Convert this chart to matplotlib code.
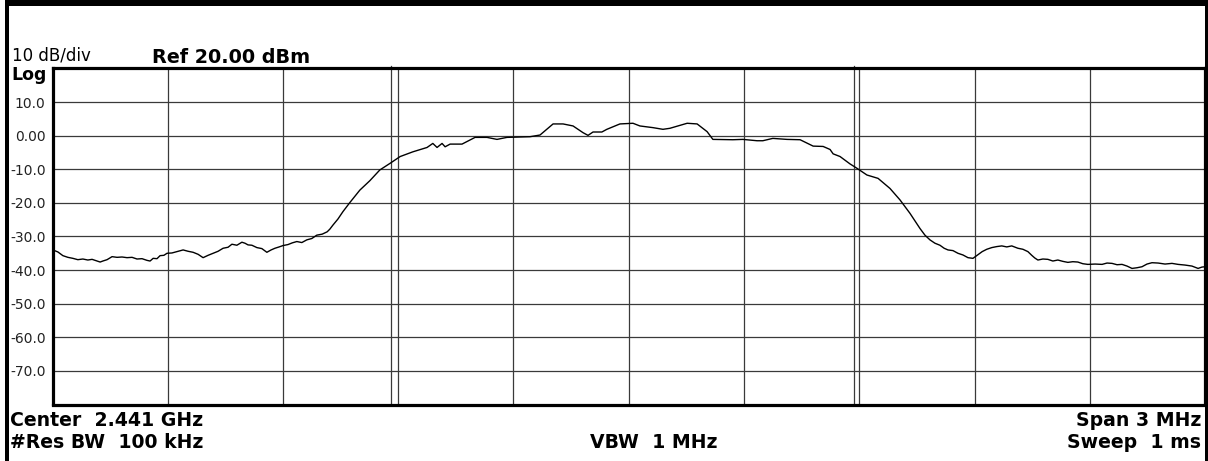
import matplotlib
matplotlib.use("Agg")
import matplotlib.pyplot as plt
from matplotlib.patches import Rectangle

# trace (frequency in MHz, level in dBm)
freq_mhz = [
    # lower skirt
    2439.501, 2439.514, 2439.527, 2439.540, 2439.553, 2439.566, 2439.579, 2439.592,
    2439.603, 2439.616, 2439.624, 2439.631, 2439.642, 2439.655, 2439.668, 2439.681,
    2439.694, 2439.707, 2439.720, 2439.733, 2439.746, 2439.754, 2439.762, 2439.772,
    2439.780, 2439.790, 2439.798, 2439.811, 2439.824, 2439.840, 2439.853, 2439.866,
    2439.879, 2439.892, 2439.905, 2439.918, 2439.931, 2439.944, 2439.957, 2439.967,
    2439.980, 2439.993, 2440.001, 2440.009, 2440.019, 2440.032, 2440.045, 2440.058,
    2440.069, 2440.079, 2440.090, 2440.100, 2440.113, 2440.124, 2440.136, 2440.149,
    2440.162, 2440.175, 2440.188, 2440.202, 2440.215, 2440.222, 2440.230, 2440.243,
    # rising edge and in-band
    2440.256, 2440.274, 2440.300, 2440.326, 2440.352, 2440.379, 2440.405, 2440.438,
    2440.475, 2440.490, 2440.501, 2440.514, 2440.522, 2440.535, 2440.566, 2440.600,
    2440.631, 2440.657, 2440.683, 2440.743, 2440.769, 2440.803, 2440.829, 2440.855,
    2440.881, 2440.894, 2440.907, 2440.930, 2440.943, 2440.977, 2441.011, 2441.029,
    2441.063, 2441.089, 2441.107, 2441.152, 2441.178, 2441.204, 2441.219, 2441.271,
    2441.297, 2441.334, 2441.349, 2441.375, 2441.412, 2441.446, 2441.480, 2441.506,
    # falling edge
    2441.524, 2441.532, 2441.550, 2441.576, 2441.594, 2441.620, 2441.649, 2441.680,
    2441.706, 2441.732, 2441.758,
    # upper skirt
    2441.771, 2441.784, 2441.797, 2441.810, 2441.821, 2441.831, 2441.844, 2441.857,
    2441.870, 2441.883, 2441.896, 2441.907, 2441.920, 2441.932, 2441.945, 2441.958,
    2441.971, 2441.984, 2441.997, 2442.013, 2442.026, 2442.039, 2442.049, 2442.057,
    2442.065, 2442.078, 2442.091, 2442.104, 2442.117, 2442.130, 2442.143, 2442.156,
    2442.169, 2442.182, 2442.195, 2442.214, 2442.232, 2442.245, 2442.258, 2442.271,
    2442.284, 2442.297, 2442.310, 2442.323, 2442.336, 2442.349, 2442.362, 2442.378,
    2442.396, 2442.414, 2442.430, 2442.448, 2442.466, 2442.482, 2442.492, 2442.500,
]
level_dbm = [
    -34.0, -34.6, -35.7, -36.2, -36.5, -36.9, -36.7, -37.0,
    -36.8, -37.3, -37.6, -37.3, -36.9, -36.0, -36.2, -36.1,
    -36.3, -36.2, -36.7, -36.6, -37.1, -37.3, -36.5, -36.6,
    -35.7, -35.6, -35.0, -34.9, -34.5, -34.0, -34.4, -34.7,
    -35.3, -36.3, -35.6, -35.0, -34.4, -33.5, -33.2, -32.3,
    -32.6, -31.7, -32.0, -32.5, -32.6, -33.3, -33.6, -34.7,
    -34.0, -33.5, -33.1, -32.7, -32.4, -31.9, -31.5, -31.8,
    -31.0, -30.6, -29.6, -29.3, -28.6, -27.8, -26.6, -24.8,
    -22.6, -19.9, -16.2, -13.4, -10.2, -8.2, -6.2, -4.8,
    -3.5, -2.3, -3.5, -2.3, -3.3, -2.5, -2.5, -0.5,
    -0.5, -1.1, -0.5, -0.3, 0.2, 3.5, 3.5, 2.9,
    0.9, 0.1, 1.1, 1.1, 1.9, 3.5, 3.7, 2.9,
    2.4, 1.9, 2.2, 3.7, 3.5, 1.2, -1.1, -1.2,
    -1.1, -1.5, -1.5, -0.8, -1.1, -1.2, -3.1, -3.2,
    -4.1, -5.4, -6.2, -8.4, -9.7, -11.7, -12.7, -15.7,
    -19.1, -23.1, -27.6,
    -29.6, -31.0, -32.0, -32.6, -33.5, -34.0, -34.2, -35.0,
    -35.5, -36.3, -36.5, -35.6, -34.5, -33.8, -33.3, -33.0,
    -32.8, -33.1, -32.8, -33.5, -33.8, -34.5, -35.6, -36.4,
    -37.0, -36.7, -36.8, -37.3, -37.0, -37.4, -37.7, -37.5,
    -37.6, -38.1, -38.3, -38.2, -38.3, -37.9, -38.0, -38.4,
    -38.3, -38.8, -39.5, -39.3, -39.0, -38.2, -37.8, -37.9,
    -38.2, -38.0, -38.3, -38.5, -38.8, -39.5, -39.1, -39.0,
]

center_mhz = 2441.0
span_mhz = 3.0
ref_level = 20.0
db_per_div = 10.0
marker_mhz = [2440.381, 2441.586]
y_labels = ["10.0", "0.00", "-10.0", "-20.0", "-30.0", "-40.0", "-50.0", "-60.0", "-70.0"]

W, H = 1208, 461
fig = plt.figure(figsize=(W / 100, H / 100), dpi=100)
fig.patch.set_facecolor("white")


def fx(x):
    return x / W


def fy(y):
    return 1 - y / H


# graticule area
ax = fig.add_axes([fx(52.5), fy(404.5), (1205 - 52.5) / W, 336 / H])
f0 = center_mhz - span_mhz / 2
f1 = center_mhz + span_mhz / 2
ax.set_xlim(f0, f1)
ax.set_ylim(ref_level - 10 * db_per_div, ref_level)

xt = [f0 + i * span_mhz / 10 for i in range(11)]
yt = [ref_level - i * db_per_div for i in range(1, 10)]
ax.set_xticks(xt)
ax.set_xticklabels([])
ax.set_yticks(yt)
ax.set_yticklabels(y_labels, fontsize=10, color="#222222")
ax.tick_params(length=0, pad=5)
ax.grid(True, color="#3a3a3a", linewidth=0.9)
ax.set_axisbelow(True)
for s in ax.spines.values():
    s.set_linewidth(2.3)
    s.set_color("black")

# markers, poke slightly above the frame
for m in marker_mhz:
    ax.plot([m, m], [ref_level - 100, ref_level + 0.8], color="#3a3a3a",
            linewidth=0.9, clip_on=False, zorder=1.5)

ax.plot(freq_mhz, level_dbm, color="black", linewidth=1.0, zorder=3)

# outer bezel
fig.patches.append(Rectangle((fx(5), 0), fx(4), 1, transform=fig.transFigure,
                             facecolor="black", edgecolor="none"))
fig.patches.append(Rectangle((fx(5), fy(6)), 1, 6 / H, transform=fig.transFigure,
                             facecolor="black", edgecolor="none"))
fig.patches.append(Rectangle((fx(1205), 0), fx(3), 1, transform=fig.transFigure,
                             facecolor="black", edgecolor="none"))

# annotations
fig.text(fx(12), fy(61), "10 dB/div", fontsize=12, va="baseline")
fig.text(fx(152), fy(63), "Ref 20.00 dBm", fontsize=13.8, fontweight="bold", va="baseline")
fig.text(fx(11), fy(80.5), "Log", fontsize=12.5, fontweight="bold", va="baseline")
fig.text(fx(10), fy(426), "Center  2.441 GHz", fontsize=13.6, fontweight="bold", va="baseline")
fig.text(fx(10), fy(448), "#Res BW  100 kHz", fontsize=13.6, fontweight="bold", va="baseline")
fig.text(fx(654), fy(448), "VBW  1 MHz", fontsize=13.6, fontweight="bold", va="baseline", ha="center")
fig.text(fx(1201), fy(426), "Span 3 MHz", fontsize=13.6, fontweight="bold", va="baseline", ha="right")
fig.text(fx(1201), fy(448), "Sweep  1 ms", fontsize=13.6, fontweight="bold", va="baseline", ha="right")

fig.savefig("out.png", dpi=100)
